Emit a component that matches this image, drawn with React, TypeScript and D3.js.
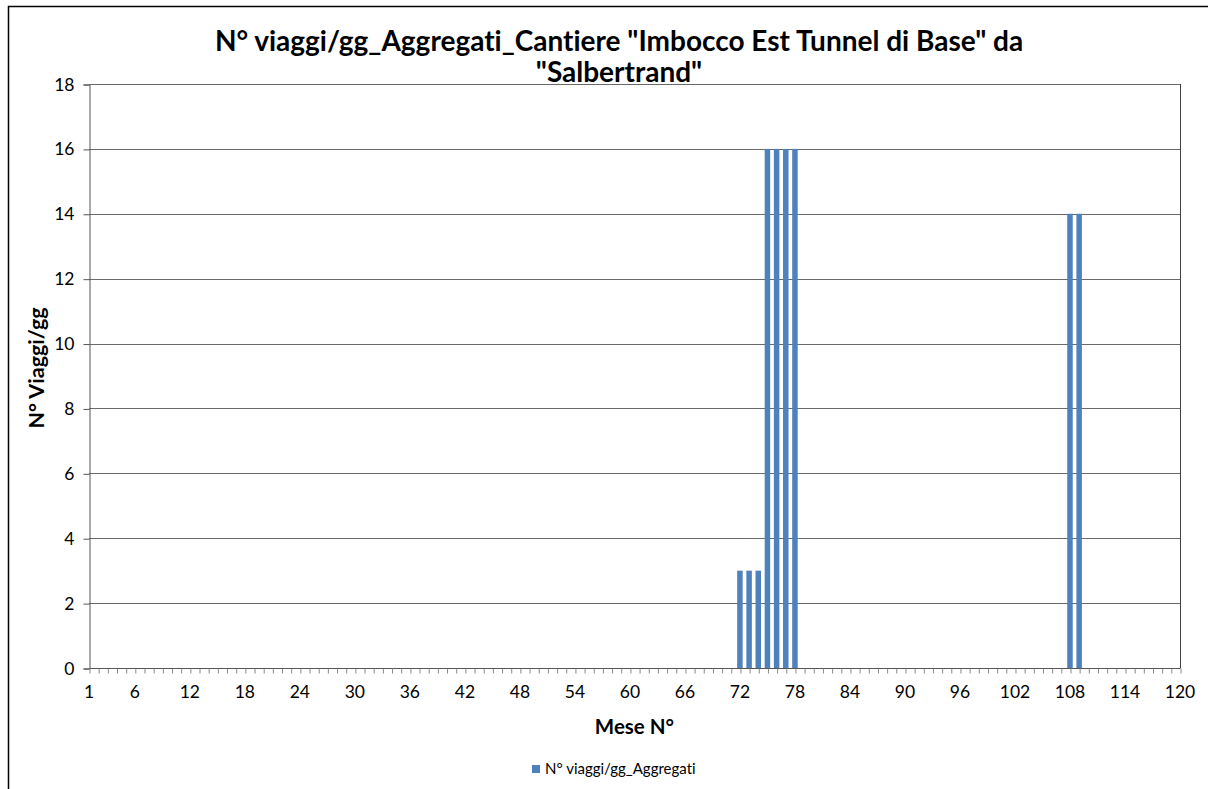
import React, { useEffect, useRef } from 'react';
import * as d3 from 'd3';

// months on the category axis
const months = d3.range(1, 121);
const tickLabels = [1, 6, 12, 18, 24, 30, 36, 42, 48, 54, 60, 66, 72, 78, 84, 90, 96, 102, 108, 114, 120];
const yTicks = [0, 2, 4, 6, 8, 10, 12, 14, 16, 18];

// non zero months of the series
const barMonths = [72, 73, 74, 75, 76, 77, 78, 108, 109];
const barValues = [3, 3, 3, 16, 16, 16, 16, 14, 14];

const title1 = 'N° viaggi/gg_Aggregati_Cantiere "Imbocco Est Tunnel di Base" da';
const title2 = '"Salbertrand"';
const seriesName = 'N° viaggi/gg_Aggregati';

const width = 1208;
const height = 789;
const font = 'Lato, "Open Sans", sans-serif';
const barColor = '#4F81BD';

export default function App() {
  const node = useRef<SVGSVGElement>(null);

  useEffect(() => {
    const svg = d3.select(node.current)
      .style('font-variant-ligatures', 'none');
    svg.selectAll('*').remove();

    const left = 89, right = 1180, top = 84, bottom = 668;

    const x = d3.scalePoint<number>().domain(months).range([left, right]);
    const y = d3.scaleLinear().domain([0, 18]).range([bottom, top]);

    // outer chart border
    svg.append('rect')
      .attr('x', 8.5).attr('y', 6.5)
      .attr('width', width + 20).attr('height', height + 20)
      .attr('fill', '#fff').attr('stroke', '#000').attr('stroke-width', 1.5);

    // gridlines
    svg.append('g').selectAll('line')
      .data(yTicks.filter(d => d > 0))
      .enter().append('line')
      .attr('x1', left).attr('x2', right)
      .attr('y1', d => Math.round(y(d)) + 0.5).attr('y2', d => Math.round(y(d)) + 0.5)
      .attr('stroke', '#6a6a6a').attr('stroke-width', 1);

    // right border of plot
    svg.append('line')
      .attr('x1', right + 0.5).attr('x2', right + 0.5)
      .attr('y1', top).attr('y2', bottom)
      .attr('stroke', '#404040');

    // bars
    const bw = 5.5;
    svg.append('g').selectAll('rect')
      .data(barMonths)
      .enter().append('rect')
      .attr('x', d => (x(d) as number) - bw / 2)
      .attr('width', bw)
      .attr('y', (d, i) => y(barValues[i]))
      .attr('height', (d, i) => bottom - y(barValues[i]))
      .attr('fill', barColor);

    // y axis
    const yAxis = d3.axisLeft(y).tickValues(yTicks).tickSize(6).tickPadding(9);
    const yG = svg.append('g').attr('transform', `translate(${left + 0.5},0.5)`).call(yAxis);
    yG.select('.domain').attr('stroke', '#555');
    yG.selectAll('line').attr('stroke', '#555');
    yG.selectAll('text').attr('font-family', font).attr('font-size', 17.5).attr('fill', '#000');

    // x axis
    const xAxis = d3.axisBottom(x).tickValues(months).tickSize(5).tickFormat(() => '');
    const xG = svg.append('g').attr('transform', `translate(0.5,${bottom + 0.5})`).call(xAxis);
    xG.select('.domain').attr('stroke', '#555').attr('d', `M${left},0H${right}`);
    xG.selectAll('line').attr('stroke', '#888');

    svg.append('g').selectAll('text')
      .data(tickLabels)
      .enter().append('text')
      .attr('x', d => x(d) as number)
      .attr('y', bottom + 30)
      .attr('text-anchor', 'middle')
      .attr('font-family', font).attr('font-size', 17.5)
      .text(d => d);

    // titles
    const t = svg.append('text')
      .attr('text-anchor', 'middle')
      .attr('font-family', font).attr('font-weight', 'bold').attr('font-size', 28)
      .attr('fill', '#000');
    t.append('tspan').attr('x', 619).attr('y', 51).text(title1);
    t.append('tspan').attr('x', 619).attr('y', 82).text(title2);

    svg.append('text')
      .attr('x', (left + right) / 2).attr('y', 734)
      .attr('text-anchor', 'middle')
      .attr('font-family', font).attr('font-weight', 'bold').attr('font-size', 20.5)
      .text('Mese N°');

    svg.append('text')
      .attr('transform', `translate(44,${(top + bottom) / 2 - 8}) rotate(-90)`)
      .attr('text-anchor', 'middle')
      .attr('font-family', font).attr('font-weight', 'bold').attr('font-size', 21.5)
      .text('N° Viaggi/gg');

    // legend
    svg.append('rect')
      .attr('x', 532).attr('y', 765).attr('width', 8).attr('height', 8)
      .attr('fill', barColor);
    svg.append('text')
      .attr('x', 545).attr('y', 774)
      .attr('font-family', font).attr('font-size', 15)
      .text(seriesName);
  }, []);

  return (
    <svg ref={node} width={width} height={height}
      style={{ position: 'absolute', left: 0, top: 0, background: '#fff' }} />
  );
}
